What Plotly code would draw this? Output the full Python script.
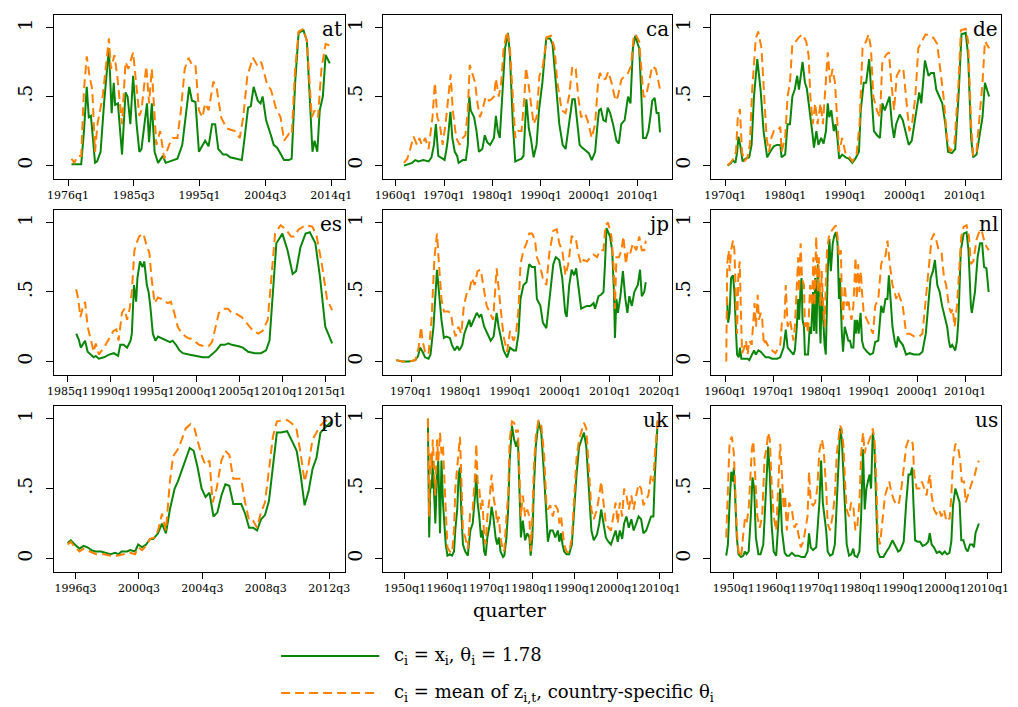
import plotly.graph_objects as go

# ---------------- data: (quarter as decimal year, value) ----------------
at_green = [(1976.5,.01),(1977.9,.01),(1978.3,.25),(1978.7,.57),(1979.0,.35),(1979.3,.36),(1979.5,.25),(1979.9,.02),(1980.2,.03),(1980.7,.1),(1981.2,.45),(1981.9,.85),(1982.3,.38),(1982.6,.6),(1982.8,.44),(1983.2,.45),(1983.8,.08),(1984.3,.53),(1984.6,.5),(1985.0,.3),(1985.4,.65),(1985.9,.3),(1986.3,.1),(1986.6,.12),(1987.4,.45),(1987.7,.17),(1988.1,.45),(1988.5,.1),(1989.0,.02),(1989.7,.07),(1990.1,.02),(1991.1,.04),(1991.8,.05),(1992.5,.15),(1993.0,.35),(1993.5,.57),(1993.9,.47),(1994.4,.46),(1994.9,.1),(1995.4,.15),(1995.8,.18),(1996.3,.14),(1996.8,.3),(1997.25,.3),(1997.7,.12),(1998.4,.08),(1998.9,.08),(1999.4,.06),(2000.55,.05),(2001.1,.04),(2001.5,.2),(2002.0,.42),(2002.4,.43),(2002.8,.57),(2003.4,.47),(2003.8,.45),(2004.1,.5),(2004.6,.33),(2005.3,.22),(2005.7,.15),(2006.2,.13),(2006.7,.08),(2007.2,.04),(2007.9,.04),(2008.3,.05),(2008.8,.6),(2009.3,.96),(2010.0,.98),(2010.5,.9),(2010.9,.5),(2011.3,.1),(2011.6,.18),(2012.0,.1),(2012.35,.4),(2012.8,.5),(2013.2,.8),(2013.8,.74)]
at_orange = [(1976.5,.05),(1976.9,.02),(1977.4,.07),(1977.9,.07),(1978.3,.55),(1978.7,.79),(1979.1,.65),(1979.5,.55),(1979.9,.1),(1980.25,.3),(1981.0,.5),(1981.4,.7),(1981.9,.92),(1982.2,.7),(1982.7,.8),(1983.1,.65),(1983.55,.45),(1983.8,.3),(1984.3,.75),(1984.7,.7),(1985.4,.82),(1985.9,.55),(1986.3,.36),(1986.6,.4),(1987.3,.72),(1987.7,.45),(1988.1,.7),(1988.75,.15),(1989.3,.25),(1989.9,.05),(1990.6,.15),(1991.1,.2),(1991.8,.2),(1992.3,.4),(1992.85,.7),(1993.4,.78),(1993.9,.73),(1994.4,.73),(1994.9,.4),(1995.4,.35),(1995.8,.45),(1996.3,.4),(1997.0,.61),(1997.5,.55),(1998.1,.35),(1998.9,.27),(2000.1,.25),(2000.8,.2),(2001.3,.35),(2001.9,.65),(2002.7,.78),(2003.4,.72),(2003.9,.75),(2004.8,.58),(2005.3,.55),(2006.0,.42),(2006.7,.35),(2007.2,.18),(2007.9,.23),(2008.3,.22),(2008.8,.7),(2009.3,.97),(2010.0,.99),(2010.5,.9),(2011.2,.35),(2011.6,.4),(2012.1,.35),(2012.6,.7),(2013.2,.88),(2013.8,.87)]

ca_green = [(1961.7,0),(1963.4,.02),(1964.05,.04),(1964.7,.03),(1965.7,.04),(1966.8,.03),(1967.4,.06),(1967.9,.15),(1968.3,.3),(1968.8,.07),(1969.7,.05),(1970.1,.04),(1970.5,.12),(1970.8,.2),(1971.3,.39),(1971.7,.2),(1972.2,.1),(1972.7,.07),(1973.0,.02),(1973.85,.04),(1974.5,.04),(1974.9,.15),(1975.2,.5),(1975.5,.4),(1976.2,.35),(1976.7,.25),(1977.2,.1),(1977.9,.12),(1978.4,.22),(1978.9,.17),(1979.5,.15),(1979.9,.18),(1980.3,.2),(1980.7,.36),(1981.1,.25),(1981.5,.2),(1982.0,.5),(1982.6,.85),(1983.2,.96),(1983.6,.8),(1984.2,.3),(1984.7,.03),(1985.3,.04),(1986.0,.05),(1986.4,.07),(1986.7,.3),(1987.0,.48),(1987.5,.27),(1987.9,.2),(1988.5,.06),(1989.1,.15),(1989.6,.4),(1990.3,.6),(1991.1,.92),(1991.9,.92),(1992.4,.88),(1993.1,.6),(1993.8,.3),(1994.5,.15),(1995.1,.12),(1995.8,.3),(1996.5,.48),(1997.0,.48),(1997.5,.3),(1998.0,.15),(1998.5,.13),(1999.2,.11),(1999.9,.09),(2000.5,.04),(2001.2,.1),(2001.7,.3),(2002.0,.4),(2002.4,.41),(2002.9,.33),(2003.4,.32),(2003.8,.42),(2004.3,.38),(2004.9,.3),(2005.6,.18),(2006.1,.16),(2006.6,.3),(2007.3,.33),(2008.0,.5),(2008.5,.45),(2009.0,.85),(2009.5,.94),(2010.0,.88),(2010.3,.85),(2010.7,.55),(2011.1,.2),(2011.7,.2),(2012.2,.25),(2012.6,.35),(2013.0,.47),(2013.5,.49),(2013.9,.38),(2014.3,.38),(2014.6,.24)]
ca_orange = [(1961.7,.02),(1962.4,.05),(1963.0,.12),(1963.7,.21),(1964.4,.15),(1964.9,.2),(1965.4,.15),(1966.1,.2),(1966.8,.12),(1967.2,.25),(1967.6,.35),(1968.1,.6),(1968.6,.35),(1969.1,.3),(1969.7,.15),(1970.3,.3),(1970.9,.5),(1971.35,.66),(1971.8,.4),(1972.5,.2),(1973.2,.15),(1973.85,.2),(1974.4,.22),(1974.9,.4),(1975.3,.73),(1975.9,.65),(1976.4,.6),(1976.9,.45),(1977.4,.35),(1977.9,.4),(1978.6,.5),(1979.3,.47),(1979.8,.48),(1980.3,.5),(1980.7,.63),(1981.3,.5),(1981.8,.6),(1982.3,.85),(1983.0,.97),(1983.6,.85),(1984.2,.5),(1984.7,.2),(1985.3,.25),(1986.0,.25),(1986.6,.5),(1986.9,.71),(1987.4,.6),(1987.9,.45),(1988.5,.3),(1989.1,.35),(1989.7,.65),(1990.4,.72),(1991.2,.93),(1992.1,.94),(1992.8,.85),(1993.4,.6),(1994.3,.4),(1995.1,.38),(1995.8,.5),(1996.5,.72),(1997.2,.7),(1997.7,.5),(1998.3,.35),(1999.1,.38),(1999.7,.32),(2000.5,.2),(2001.2,.3),(2001.8,.6),(2002.2,.67),(2002.9,.62),(2003.4,.63),(2003.9,.68),(2004.6,.6),(2005.4,.47),(2005.9,.5),(2006.6,.62),(2007.3,.65),(2008.0,.67),(2008.6,.72),(2009.2,.95),(2009.7,.94),(2010.3,.9),(2010.7,.7),(2011.2,.5),(2011.7,.5),(2012.2,.6),(2012.6,.65),(2013.0,.72),(2013.7,.7),(2014.05,.65),(2014.6,.55)]

de_green = [(1970.4,0),(1971.0,.02),(1971.25,.04),(1971.7,.02),(1972.0,.1),(1972.2,.21),(1972.5,.15),(1972.9,.03),(1973.4,.05),(1974.0,.06),(1974.4,.15),(1974.8,.5),(1975.35,.77),(1975.9,.55),(1976.4,.25),(1977.0,.06),(1977.5,.1),(1978.1,.14),(1978.6,.15),(1979.2,.15),(1979.4,.06),(1980.0,.08),(1980.4,.3),(1980.8,.3),(1981.2,.5),(1981.6,.55),(1982.0,.65),(1982.3,.55),(1982.9,.75),(1983.3,.6),(1983.6,.56),(1984.1,.4),(1984.5,.25),(1984.8,.13),(1985.2,.25),(1985.55,.15),(1986.0,.2),(1986.4,.16),(1986.8,.25),(1987.1,.45),(1987.35,.35),(1987.7,.4),(1988.1,.25),(1988.4,.3),(1988.7,.2),(1989.0,.05),(1989.5,.08),(1990.1,.06),(1990.6,.05),(1991.2,.02),(1991.7,.05),(1992.3,.1),(1992.6,.4),(1993.1,.6),(1993.5,.6),(1994.0,.77),(1994.4,.5),(1994.8,.25),(1995.3,.22),(1995.8,.2),(1996.2,.45),(1996.6,.4),(1997.0,.45),(1997.4,.5),(1997.8,.3),(1998.15,.2),(1998.5,.3),(1999.1,.37),(1999.6,.33),(2000.1,.25),(2000.6,.15),(2001.1,.18),(2001.5,.3),(2002.1,.45),(2002.35,.53),(2002.7,.45),(2003.3,.76),(2003.9,.65),(2004.3,.67),(2004.8,.67),(2005.2,.55),(2005.7,.5),(2006.2,.45),(2006.7,.3),(2007.15,.1),(2007.8,.09),(2008.35,.12),(2008.9,.5),(2009.4,.95),(2010.1,.96),(2010.5,.8),(2011.0,.2),(2011.35,.06),(2011.9,.08),(2012.4,.2),(2012.9,.35),(2013.3,.6),(2014.0,.5)]
de_orange = [(1970.4,0),(1971.25,.04),(1971.8,.1),(1972.1,.35),(1972.45,.41),(1972.8,.1),(1973.2,.03),(1973.7,.06),(1974.1,.15),(1974.5,.55),(1975.1,.92),(1975.5,.97),(1976.05,.85),(1976.4,.55),(1976.9,.2),(1977.3,.1),(1977.7,.2),(1978.1,.25),(1978.6,.25),(1979.2,.28),(1979.4,.1),(1980.0,.2),(1980.4,.5),(1980.8,.6),(1981.2,.88),(1981.8,.9),(1982.3,.93),(1982.9,.95),(1983.5,.9),(1983.9,.8),(1984.2,.5),(1984.6,.3),(1985.0,.45),(1985.4,.3),(1985.9,.45),(1986.3,.3),(1986.6,.5),(1987.1,.82),(1987.5,.6),(1987.9,.7),(1988.3,.6),(1988.7,.3),(1989.0,.1),(1989.5,.2),(1990.1,.08),(1990.6,.07),(1991.2,.03),(1991.9,.08),(1992.4,.3),(1992.9,.85),(1993.5,.9),(1993.9,.95),(1994.3,.85),(1994.7,.5),(1995.3,.4),(1995.8,.35),(1996.2,.75),(1996.8,.8),(1997.3,.82),(1997.7,.6),(1998.15,.4),(1998.6,.65),(1999.2,.7),(1999.7,.7),(2000.2,.5),(2000.7,.25),(2001.15,.3),(2001.7,.5),(2002.2,.85),(2002.8,.9),(2003.4,.95),(2004.3,.94),(2004.8,.92),(2005.35,.88),(2005.9,.7),(2006.4,.5),(2007.0,.2),(2007.5,.1),(2008.2,.15),(2008.9,.6),(2009.3,.98),(2010.1,.99),(2010.5,.9),(2011.0,.3),(2011.35,.07),(2011.9,.1),(2012.4,.35),(2012.9,.6),(2013.3,.9),(2014.0,.85)]

es_green = [(1985.96,.2),(1986.26,.16),(1986.5,.1),(1986.8,.13),(1987.0,.15),(1987.3,.07),(1987.7,.05),(1988.0,.03),(1988.25,.04),(1988.6,.02),(1989.2,.03),(1989.8,.05),(1990.35,.06),(1990.85,.04),(1991.1,.12),(1991.5,.12),(1991.9,.1),(1992.3,.15),(1992.45,.2),(1992.7,.55),(1992.95,.43),(1993.1,.6),(1993.4,.72),(1993.7,.68),(1993.9,.72),(1994.2,.55),(1994.4,.5),(1994.6,.4),(1994.9,.2),(1995.2,.15),(1995.5,.18),(1995.9,.17),(1996.3,.16),(1996.65,.15),(1996.9,.14),(1997.2,.15),(1997.6,.12),(1998.0,.08),(1998.4,.06),(1999.1,.05),(1999.9,.04),(2000.7,.03),(2001.4,.03),(2001.8,.05),(2002.3,.08),(2002.8,.12),(2003.3,.12),(2003.7,.13),(2004.1,.12),(2004.9,.11),(2005.4,.1),(2006.0,.07),(2006.8,.06),(2007.5,.06),(2008.1,.08),(2008.5,.15),(2008.9,.5),(2009.3,.85),(2010.0,.92),(2010.6,.8),(2011.2,.63),(2011.6,.65),(2012.1,.82),(2012.7,.92),(2013.2,.93),(2013.85,.85),(2014.4,.6),(2015.0,.25),(2015.8,.13)]
es_orange = [(1985.96,.52),(1986.2,.45),(1986.45,.32),(1986.7,.38),(1987.0,.43),(1987.3,.25),(1987.7,.15),(1988.0,.07),(1988.25,.13),(1988.6,.05),(1989.2,.1),(1989.8,.17),(1990.3,.22),(1990.65,.23),(1990.9,.15),(1991.3,.35),(1991.6,.38),(1991.9,.3),(1992.2,.38),(1992.45,.5),(1992.75,.8),(1993.0,.85),(1993.3,.9),(1993.8,.92),(1994.1,.85),(1994.5,.78),(1994.75,.6),(1995.1,.42),(1995.5,.46),(1995.9,.45),(1996.3,.43),(1996.65,.42),(1997.0,.43),(1997.4,.35),(1997.8,.25),(1998.3,.2),(1998.95,.17),(1999.5,.16),(2000.3,.12),(2000.9,.11),(2001.4,.11),(2001.8,.14),(2002.2,.25),(2002.6,.35),(2003.15,.38),(2003.65,.38),(2004.1,.35),(2004.7,.34),(2005.25,.32),(2005.8,.28),(2006.6,.22),(2007.2,.2),(2007.7,.22),(2008.3,.3),(2008.7,.6),(2009.15,.92),(2009.8,.98),(2010.4,.95),(2011.0,.9),(2011.35,.9),(2011.9,.95),(2012.7,.98),(2013.5,.97),(2014.0,.9),(2014.6,.7),(2015.2,.45),(2015.8,.37)]

jp_green = [(1967.0,.01),(1968.2,0),(1969.5,0),(1970.85,.01),(1971.4,.04),(1971.8,.1),(1972.3,.07),(1972.8,.03),(1973.5,.02),(1973.9,.05),(1974.5,.25),(1974.8,.45),(1975.2,.66),(1975.6,.5),(1976.1,.3),(1976.6,.17),(1977.1,.18),(1977.8,.17),(1978.2,.12),(1978.75,.08),(1979.3,.11),(1979.7,.08),(1980.3,.12),(1980.7,.2),(1981.25,.25),(1981.7,.3),(1982.0,.25),(1982.6,.3),(1983.2,.35),(1983.7,.32),(1984.1,.34),(1984.7,.25),(1985.3,.2),(1986.0,.15),(1986.6,.18),(1987.2,.35),(1987.6,.25),(1988.1,.15),(1988.6,.08),(1989.3,.03),(1989.9,.1),(1990.6,.08),(1991.1,.08),(1991.6,.2),(1992.0,.45),(1992.6,.55),(1993.2,.57),(1993.75,.7),(1994.3,.68),(1994.9,.68),(1995.3,.45),(1996.0,.4),(1996.5,.28),(1997.2,.24),(1997.7,.4),(1998.2,.6),(1998.6,.7),(1999.1,.75),(1999.8,.73),(2000.4,.6),(2001.0,.35),(2001.3,.32),(2001.8,.55),(2002.3,.66),(2002.8,.62),(2003.2,.67),(2003.75,.5),(2004.2,.38),(2004.7,.39),(2005.4,.4),(2006.05,.4),(2006.7,.42),(2007.0,.38),(2007.7,.47),(2008.2,.48),(2008.7,.5),(2009.0,.7),(2009.3,.96),(2010.0,.9),(2010.45,.8),(2010.8,.5),(2011.0,.17),(2011.3,.45),(2011.6,.35),(2012.1,.47),(2012.6,.65),(2013.1,.45),(2013.5,.35),(2013.9,.47),(2014.4,.4),(2014.9,.5),(2015.6,.55),(2016.05,.66),(2016.4,.47),(2016.9,.5),(2017.2,.57)]
jp_orange = [(1967.0,.01),(1968.2,0),(1969.5,0),(1970.85,.01),(1971.5,.1),(1972.0,.25),(1972.3,.15),(1972.8,.07),(1973.5,.05),(1974.1,.3),(1974.7,.75),(1975.2,.92),(1975.6,.7),(1976.1,.45),(1976.6,.36),(1977.4,.36),(1978.0,.35),(1978.4,.25),(1978.95,.18),(1979.5,.25),(1980.1,.2),(1980.6,.4),(1981.25,.5),(1981.7,.5),(1982.2,.6),(1982.8,.55),(1983.35,.65),(1984.0,.66),(1984.5,.55),(1985.2,.4),(1985.85,.35),(1986.5,.3),(1987.2,.67),(1987.6,.5),(1988.1,.35),(1988.6,.18),(1989.3,.07),(1989.9,.22),(1990.6,.15),(1991.1,.2),(1991.6,.38),(1992.0,.7),(1992.6,.8),(1993.2,.85),(1993.75,.92),(1994.3,.92),(1994.9,.88),(1995.3,.75),(1995.85,.7),(1996.5,.6),(1997.2,.55),(1997.8,.78),(1998.6,.94),(1999.3,.95),(1999.8,.85),(2000.4,.8),(2001.05,.62),(2001.6,.7),(2002.3,.9),(2003.1,.89),(2003.6,.78),(2004.2,.7),(2004.7,.73),(2005.4,.72),(2006.05,.75),(2006.7,.77),(2007.4,.75),(2008.0,.8),(2008.7,.8),(2009.1,.98),(2009.6,1.0),(2010.3,.9),(2010.8,.65),(2011.0,.38),(2011.3,.75),(2011.8,.75),(2012.3,.8),(2012.7,.9),(2013.2,.7),(2013.6,.8),(2014.1,.78),(2014.6,.85),(2015.3,.8),(2015.9,.9),(2016.4,.8),(2016.9,.8),(2017.2,.87)]

nl_green = [(1960.35,.45),(1960.6,.28),(1960.9,.35),(1961.2,.6),(1961.6,.62),(1961.9,.5),(1962.25,.2),(1962.45,.05),(1962.8,.03),(1963.05,.1),(1963.35,.02),(1963.95,.02),(1964.65,.02),(1965.0,.01),(1965.5,.05),(1966.0,.08),(1966.35,.05),(1966.9,.08),(1967.4,.07),(1967.85,.05),(1968.4,.03),(1969.1,.03),(1969.75,.02),(1970.8,.02),(1971.45,.03),(1972.15,.1),(1972.6,.23),(1973.0,.1),(1973.5,.08),(1974.2,.05),(1974.5,.08),(1974.9,.25),(1975.2,.45),(1975.4,.3),(1975.7,.55),(1975.9,.6),(1976.1,.3),(1976.4,.25),(1976.6,.05),(1976.9,.05),(1977.25,.05),(1977.6,.25),(1977.9,.2),(1978.3,.5),(1978.5,.22),(1978.75,.6),(1979.0,.2),(1979.3,.7),(1979.6,.3),(1979.85,.13),(1980.1,.5),(1980.4,.3),(1980.7,.12),(1980.95,.05),(1981.15,.4),(1981.35,.65),(1981.7,.88),(1982.0,.65),(1982.4,.85),(1982.7,.9),(1983.05,.93),(1983.4,.85),(1983.7,.45),(1983.9,.6),(1984.3,.2),(1984.55,.07),(1984.9,.25),(1985.3,.2),(1985.65,.15),(1986.0,.15),(1986.3,.1),(1986.7,.1),(1987.0,.3),(1987.2,.2),(1987.5,.3),(1987.8,.2),(1988.2,.35),(1988.5,.15),(1988.85,.1),(1989.55,.07),(1990.2,.05),(1990.8,.06),(1991.25,.14),(1991.9,.15),(1992.5,.4),(1992.95,.35),(1993.4,.45),(1993.8,.45),(1994.1,.62),(1994.45,.45),(1994.85,.25),(1995.3,.15),(1995.65,.1),(1996.0,.18),(1996.3,.15),(1997.0,.12),(1997.7,.05),(1998.4,.06),(1999.4,.05),(2000.45,.05),(2001.1,.07),(2001.8,.2),(2002.5,.5),(2002.8,.6),(2003.3,.65),(2003.7,.73),(2004.2,.55),(2004.7,.5),(2005.2,.4),(2005.8,.3),(2006.25,.25),(2006.6,.15),(2006.9,.1),(2007.3,.12),(2007.6,.1),(2007.95,.08),(2008.3,.15),(2008.6,.3),(2009.1,.8),(2009.7,.92),(2010.3,.93),(2010.7,.8),(2011.2,.4),(2011.4,.35),(2012.05,.5),(2012.6,.75),(2013.1,.85),(2013.55,.85),(2013.95,.68),(2014.45,.67),(2014.9,.5)]
nl_orange = [(1960.2,0),(1960.4,.7),(1960.7,.8),(1960.9,.65),(1961.2,.8),(1961.6,.87),(1961.9,.8),(1962.25,.5),(1962.45,.2),(1962.7,.6),(1963.0,.72),(1963.3,.3),(1963.5,.06),(1963.95,.1),(1964.3,.15),(1964.65,.05),(1965.0,.15),(1965.5,.12),(1965.9,.3),(1966.1,.42),(1966.4,.25),(1966.75,.48),(1967.0,.3),(1967.4,.35),(1967.7,.3),(1968.05,.12),(1968.4,.15),(1969.1,.1),(1969.75,.08),(1970.45,.06),(1971.1,.1),(1971.45,.12),(1971.8,.28),(1972.35,.3),(1972.6,.55),(1973.0,.25),(1973.5,.3),(1974.2,.15),(1974.5,.25),(1974.9,.55),(1975.2,.75),(1975.4,.5),(1975.7,.85),(1976.0,.6),(1976.4,.55),(1976.6,.25),(1976.9,.3),(1977.25,.2),(1977.7,.55),(1978.1,.4),(1978.35,.75),(1978.6,.4),(1978.95,.9),(1979.3,.5),(1979.5,.75),(1979.85,.4),(1980.1,.65),(1980.4,.4),(1980.7,.25),(1980.95,.55),(1981.2,.8),(1981.7,.92),(1982.4,.95),(1983.05,.98),(1983.4,.9),(1983.7,.75),(1984.1,.8),(1984.3,.45),(1984.55,.3),(1984.9,.55),(1985.3,.4),(1985.65,.45),(1986.0,.35),(1986.3,.3),(1986.7,.4),(1987.15,.75),(1987.4,.45),(1987.7,.7),(1987.95,.5),(1988.25,.65),(1988.5,.5),(1988.85,.35),(1989.55,.3),(1990.2,.25),(1990.8,.2),(1991.25,.4),(1991.9,.45),(1992.5,.7),(1992.95,.75),(1993.4,.76),(1993.8,.87),(1994.3,.7),(1994.85,.55),(1995.3,.5),(1995.65,.45),(1996.0,.5),(1996.5,.45),(1997.0,.4),(1997.7,.2),(1998.4,.2),(1999.4,.18),(2000.45,.18),(2001.1,.2),(2001.8,.45),(2002.5,.75),(2003.0,.88),(2003.5,.92),(2004.0,.87),(2004.5,.8),(2005.1,.78),(2005.6,.6),(2006.05,.55),(2006.6,.4),(2007.05,.35),(2007.4,.38),(2007.8,.25),(2008.3,.4),(2008.8,.65),(2009.2,.9),(2009.7,.97),(2010.3,.98),(2010.8,.9),(2011.2,.7),(2011.7,.72),(2012.4,.88),(2013.1,.95),(2013.55,.93),(2014.1,.85),(2014.9,.8)]

pt_green = [(1996.0,.11),(1996.2,.13),(1996.45,.1),(1996.75,.07),(1997.0,.09),(1997.25,.08),(1997.5,.06),(1997.75,.05),(1998.1,.05),(1998.45,.04),(1998.7,.03),(1999.0,.04),(1999.2,.03),(1999.4,.05),(1999.75,.05),(1999.95,.06),(2000.25,.05),(2000.45,.1),(2000.7,.08),(2000.95,.1),(2001.2,.14),(2001.4,.14),(2001.7,.18),(2001.95,.25),(2002.2,.18),(2002.45,.35),(2002.75,.5),(2002.95,.55),(2003.2,.63),(2003.45,.72),(2003.7,.79),(2003.95,.77),(2004.2,.65),(2004.45,.5),(2004.7,.44),(2004.95,.47),(2005.2,.3),(2005.45,.33),(2005.7,.45),(2005.95,.53),(2006.2,.52),(2006.45,.39),(2006.7,.39),(2006.95,.39),(2007.2,.32),(2007.45,.22),(2007.7,.22),(2007.95,.2),(2008.2,.28),(2008.45,.31),(2008.7,.41),(2008.95,.65),(2009.2,.9),(2009.45,.9),(2009.85,.91),(2010.2,.83),(2010.45,.77),(2010.7,.6),(2010.95,.38),(2011.2,.48),(2011.45,.64),(2011.7,.72),(2011.95,.9),(2012.2,.93),(2012.45,.96),(2012.65,.98)]
pt_orange = [(1996.0,.1),(1996.2,.12),(1996.45,.08),(1996.75,.05),(1997.0,.07),(1997.37,.05),(1997.8,.03),(1998.3,.03),(1998.7,.02),(1999.1,.02),(1999.5,.03),(1999.95,.04),(2000.25,.03),(2000.45,.08),(2000.7,.06),(2000.95,.09),(2001.2,.14),(2001.5,.15),(2001.7,.2),(2001.95,.32),(2002.2,.2),(2002.45,.55),(2002.65,.73),(2002.95,.78),(2003.2,.85),(2003.45,.93),(2003.75,.96),(2004.0,.93),(2004.3,.8),(2004.5,.72),(2004.7,.67),(2004.95,.7),(2005.15,.4),(2005.4,.5),(2005.7,.7),(2005.95,.77),(2006.2,.74),(2006.45,.57),(2006.7,.57),(2006.95,.57),(2007.2,.4),(2007.45,.27),(2007.7,.27),(2007.95,.22),(2008.2,.33),(2008.45,.4),(2008.7,.63),(2008.95,.87),(2009.2,.98),(2009.85,.99),(2010.2,.96),(2010.45,.92),(2010.7,.75),(2010.95,.55),(2011.2,.67),(2011.45,.85),(2011.7,.9),(2011.95,.95),(2012.2,.98),(2012.45,.99)]

uk_quarter = [1955.4,1955.7,1956.0,1956.3,1956.55,1956.85,1957.15,1957.55,1957.85,1958.25,
              1958.6,1958.95,1959.25,1959.6,1960.0,1960.55,1961.1,1961.55,1961.85,1962.3,
              1962.65,1962.95,1963.25,1963.65,1964.2,1964.8,1965.4,1965.95,1966.5,1966.8,
              1967.1,1967.5,1967.9,1968.25,1968.65,1969.0,1969.4,1970.0,1970.4,1970.8,
              1971.35,1971.7,1972.1,1972.5,1973.1,1973.4,1973.9,1974.3,1974.65,1975.2,
              1975.7,1976.2,1976.6,1976.95,1977.3,1977.75,1978.3,1978.8,1979.3,1979.6,
              1980.0,1980.35,1980.8,1981.45,1982.1,1982.75,1983.3,1983.65,1984.2,1984.8,
              1985.4,1986.0,1986.35,1986.75,1987.1,1987.5,1988.05,1988.65,1989.3,1989.8,
              1990.4,1991.0,1991.6,1992.15,1992.7,1993.3,1993.9,1994.45,1995.2,1995.75,
              1996.2,1996.75,1997.3,1997.9,1998.5,1999.05,1999.6,2000.1,2000.6,2001.15,
              2001.6,2002.15,2002.7,2003.3,2003.85,2004.45,2005.0,2005.6,2006.15,2006.8,
              2007.3,2007.95,2008.5,2008.85,2009.5]
uk_green_v = [1.0,.15,.55,.5,.7,.45,.25,.6,.7,.18,
              .7,.4,.25,.1,.02,.03,.02,.05,.2,.35,
              .6,.65,.35,.1,.05,.02,.2,.25,.45,.6,
              .4,.3,.15,.2,.05,.02,.15,.25,.37,.3,
              .15,.1,.15,.05,.01,.02,.15,.35,.7,.95,
              .85,.8,.85,.45,.15,.27,.13,.18,.15,.02,
              .15,.5,.8,.98,.9,.6,.25,.12,.2,.2,
              .15,.2,.12,.18,.1,.05,.03,.03,.1,.35,
              .6,.8,.85,.9,.8,.45,.2,.13,.17,.25,
              .35,.25,.15,.12,.1,.15,.2,.12,.2,.14,
              .25,.3,.22,.28,.2,.25,.3,.28,.18,.2,
              .25,.3,.3,.6,.98]
uk_orange_v = [1.0,.3,.75,.65,.85,.6,.45,.85,.7,.9,
               .75,.8,.6,.3,.08,.05,.04,.2,.5,.65,
               .8,.87,.6,.2,.15,.07,.35,.35,.6,.82,
               .55,.5,.35,.42,.15,.1,.3,.45,.6,.45,
               .35,.25,.3,.15,.05,.06,.3,.45,.85,.98,
               .97,.9,.92,.6,.3,.45,.3,.35,.3,.05,
               .3,.65,.87,.99,.95,.75,.4,.35,.38,.3,
               .38,.35,.25,.3,.2,.1,.05,.04,.15,.45,
               .72,.85,.92,.97,.93,.6,.35,.28,.35,.45,
               .55,.4,.25,.22,.2,.3,.4,.25,.4,.3,
               .5,.45,.35,.45,.35,.45,.53,.5,.38,.42,
               .45,.6,.55,.75,.99]
uk_green = list(zip(uk_quarter, uk_green_v))
uk_orange = list(zip(uk_quarter, uk_orange_v))

us_green = [(1948.2,.02),(1948.6,.1),(1949.0,.4),(1949.4,.62),(1949.8,.55),(1950.0,.65),(1950.3,.45),(1950.7,.15),(1951.1,.03),(1951.7,.01),(1952.25,.02),(1952.6,.05),(1953.0,.03),(1953.5,.05),(1954.0,.3),(1954.4,.58),(1954.8,.5),(1955.2,.15),(1955.8,.03),(1956.3,.03),(1956.95,.1),(1957.35,.35),(1957.7,.6),(1958.1,.8),(1958.5,.6),(1958.9,.25),(1959.4,.05),(1960.0,.02),(1960.6,.3),(1960.95,.5),(1961.35,.2),(1962.0,.04),(1962.5,.02),(1963.05,.02),(1963.7,.04),(1964.45,.02),(1965.2,.02),(1966.0,.01),(1966.75,.01),(1967.4,.05),(1967.75,.18),(1968.15,.08),(1968.7,.06),(1969.45,.08),(1969.85,.25),(1970.2,.4),(1970.6,.7),(1971.0,.4),(1971.4,.3),(1971.8,.2),(1972.15,.05),(1972.7,.02),(1973.3,.03),(1973.85,.1),(1974.3,.4),(1974.7,.7),(1975.1,.93),(1975.5,.85),(1975.9,.6),(1976.25,.3),(1976.65,.1),(1977.2,.02),(1977.7,.03),(1978.2,.07),(1978.5,.02),(1979.1,.01),(1979.65,.05),(1980.05,.3),(1980.5,.78),(1980.9,.35),(1981.3,.5),(1981.65,.55),(1982.05,.6),(1982.4,.5),(1982.8,.9),(1983.2,.8),(1983.6,.4),(1983.95,.05),(1984.5,.01),(1985.3,.01),(1986.05,.05),(1986.7,.08),(1987.45,.13),(1988.0,.1),(1988.8,.05),(1989.3,.06),(1990.1,.12),(1990.7,.4),(1991.25,.6),(1991.7,.6),(1992.1,.65),(1992.4,.4),(1992.8,.13),(1993.4,.12),(1993.95,.12),(1994.55,.09),(1995.3,.1),(1995.9,.12),(1996.25,.18),(1996.7,.1),(1997.25,.08),(1997.9,.04),(1998.6,.05),(1999.2,.03),(1999.8,.05),(2000.35,.03),(2000.9,.04),(2001.35,.12),(2001.75,.38),(2002.3,.5),(2002.75,.45),(2003.3,.4),(2003.7,.13),(2004.2,.13),(2004.75,.07),(2005.2,.05),(2005.75,.1),(2006.3,.1),(2006.7,.08),(2007.05,.18),(2007.85,.25)]
us_orange = [(1948.2,.15),(1948.6,.55),(1949.0,.84),(1949.55,.87),(1950.0,.75),(1950.4,.45),(1950.7,.2),(1951.1,.05),(1951.7,.01),(1952.25,.18),(1952.6,.28),(1953.0,.25),(1953.5,.35),(1953.85,.55),(1954.25,.78),(1954.6,.84),(1955.0,.6),(1955.55,.3),(1956.1,.22),(1956.7,.3),(1957.25,.72),(1957.7,.78),(1958.1,.9),(1958.5,.85),(1958.9,.55),(1959.4,.3),(1960.0,.2),(1960.6,.55),(1960.95,.82),(1961.35,.6),(1961.75,.35),(1962.1,.45),(1962.5,.2),(1963.05,.4),(1963.7,.35),(1964.3,.22),(1964.8,.25),(1965.2,.18),(1965.8,.08),(1966.4,.12),(1966.9,.2),(1967.4,.3),(1967.75,.62),(1968.15,.4),(1968.7,.38),(1969.2,.4),(1969.7,.5),(1970.2,.77),(1970.8,.85),(1971.2,.78),(1971.8,.5),(1972.15,.25),(1972.7,.2),(1973.3,.3),(1973.85,.45),(1974.3,.75),(1974.7,.85),(1975.1,.95),(1975.5,.92),(1975.9,.8),(1976.25,.55),(1976.65,.35),(1977.2,.3),(1977.7,.4),(1978.2,.38),(1978.7,.2),(1979.1,.22),(1979.65,.4),(1980.05,.75),(1980.5,.9),(1980.9,.75),(1981.3,.82),(1981.65,.82),(1982.05,.85),(1982.4,.88),(1982.8,.93),(1983.2,.85),(1983.6,.6),(1983.95,.2),(1984.5,.1),(1985.1,.3),(1985.7,.45),(1986.2,.5),(1986.7,.55),(1987.2,.47),(1987.75,.42),(1988.4,.38),(1989.0,.4),(1989.55,.5),(1990.1,.65),(1990.7,.8),(1991.25,.85),(1991.85,.85),(1992.25,.82),(1992.6,.6),(1993.15,.5),(1993.8,.5),(1994.4,.55),(1994.95,.5),(1995.5,.45),(1995.95,.55),(1996.3,.6),(1996.7,.45),(1997.25,.35),(1997.8,.32),(1998.4,.35),(1999.05,.3),(1999.6,.35),(2000.1,.28),(2000.6,.3),(2000.95,.28),(2001.35,.45),(2001.75,.7),(2002.3,.82),(2002.9,.8),(2003.45,.7),(2003.8,.55),(2004.35,.55),(2004.75,.4),(2005.2,.45),(2005.75,.5),(2006.3,.55),(2006.9,.6),(2007.3,.65),(2007.85,.7)]

# tick positions (decimal year) and labels per panel
at_ticks = [1976.0, 1985.5, 1995.0, 2004.5, 2014.0]
at_labels = ["1976q1", "1985q3", "1995q1", "2004q3", "2014q1"]
ca_ticks = [1960, 1970, 1980, 1990, 2000, 2010]
ca_labels = ["1960q1", "1970q1", "1980q1", "1990q1", "2000q1", "2010q1"]
de_ticks = [1970, 1980, 1990, 2000, 2010]
de_labels = ["1970q1", "1980q1", "1990q1", "2000q1", "2010q1"]
es_ticks = [1985, 1990, 1995, 2000, 2005, 2010, 2015]
es_labels = ["1985q1", "1990q1", "1995q1", "2000q1", "2005q1", "2010q1", "2015q1"]
jp_ticks = [1970, 1980, 1990, 2000, 2010, 2020]
jp_labels = ["1970q1", "1980q1", "1990q1", "2000q1", "2010q1", "2020q1"]
nl_ticks = [1960, 1970, 1980, 1990, 2000, 2010]
nl_labels = ["1960q1", "1970q1", "1980q1", "1990q1", "2000q1", "2010q1"]
pt_ticks = [1996.5, 2000.5, 2004.5, 2008.5, 2012.5]
pt_labels = ["1996q3", "2000q3", "2004q3", "2008q3", "2012q3"]
uk_ticks = [1950, 1960, 1970, 1980, 1990, 2000, 2010]
uk_labels = ["1950q1", "1960q1", "1970q1", "1980q1", "1990q1", "2000q1", "2010q1"]
us_ticks = [1950, 1960, 1970, 1980, 1990, 2000, 2010]
us_labels = ["1950q1", "1960q1", "1970q1", "1980q1", "1990q1", "2000q1", "2010q1"]

y_ticks = [0, 0.5, 1]
y_labels = ["0", ".5", "1"]

countries = ["at", "ca", "de", "es", "jp", "nl", "pt", "uk", "us"]
series_green = [at_green, ca_green, de_green, es_green, jp_green, nl_green, pt_green, uk_green, us_green]
series_orange = [at_orange, ca_orange, de_orange, es_orange, jp_orange, nl_orange, pt_orange, uk_orange, us_orange]
ticks = [at_ticks, ca_ticks, de_ticks, es_ticks, jp_ticks, nl_ticks, pt_ticks, uk_ticks, us_ticks]
labels = [at_labels, ca_labels, de_labels, es_labels, jp_labels, nl_labels, pt_labels, uk_labels, us_labels]

legend_green = "c<sub>i</sub> = x<sub>i</sub>, θ<sub>i</sub> = 1.78"
legend_orange = "c<sub>i</sub> = mean of z<sub>i,t</sub>, country-specific θ<sub>i</sub>"

# ---------------- layout settings ----------------
x_ranges = [[1974.0, 2016.0], [1957.44, 2017.1], [1967.7, 2016.0],
            [1983.4, 2017.3], [1964.4, 2022.5], [1957.1, 2017.5],
            [1995.15, 2013.5], [1944.9, 2012.9], [1944.7, 2013.1]]
col_dom = [[0.0452, 0.3360], [0.3743, 0.6631], [0.7024, 0.9921]]
row_dom = [[0.7468, 0.9788], [0.4696, 0.7030], [0.1909, 0.4257]]
y_range = [-0.097, 1.09]

FONT = "DejaVu Serif"
GREEN = "#0a850a"
ORANGE = "#ff8000"

fig = go.Figure()
layout = dict(
    width=1018, height=707,
    margin=dict(l=0, r=0, t=0, b=0),
    paper_bgcolor="white", plot_bgcolor="white",
    showlegend=False,
    font=dict(family=FONT, color="black"),
    annotations=[], shapes=[],
)

for i, c in enumerate(countries):
    n = i + 1
    xa = "x" if n == 1 else f"x{n}"
    ya = "y" if n == 1 else f"y{n}"
    gx, gy = zip(*series_green[i])
    ox, oy = zip(*series_orange[i])
    fig.add_trace(go.Scatter(x=gx, y=gy, mode="lines", xaxis=xa, yaxis=ya,
                             line=dict(color=GREEN, width=2), hoverinfo="skip"))
    fig.add_trace(go.Scatter(x=ox, y=oy, mode="lines", xaxis=xa, yaxis=ya,
                             line=dict(color=ORANGE, width=2, dash="9px,5px"), hoverinfo="skip"))
    r, col = divmod(i, 3)
    layout["xaxis" if n == 1 else f"xaxis{n}"] = dict(
        domain=col_dom[col], anchor=ya, range=x_ranges[i],
        tickmode="array", tickvals=ticks[i], ticktext=labels[i], tickangle=0,
        ticks="outside", ticklen=6, tickwidth=1.2, tickcolor="black",
        showline=True, mirror=True, linecolor="black", linewidth=1.4,
        showgrid=False, zeroline=False,
        tickfont=dict(family=FONT, size=11, color="black"),
    )
    layout["yaxis" if n == 1 else f"yaxis{n}"] = dict(
        domain=row_dom[r], anchor=xa, range=y_range,
        tickmode="array", tickvals=y_ticks, ticktext=y_labels, tickangle=-90,
        ticks="outside", ticklen=7, tickwidth=1.2, tickcolor="black",
        ticklabelstandoff=6,
        showline=True, mirror=True, linecolor="black", linewidth=1.4,
        showgrid=False, zeroline=False,
        tickfont=dict(family=FONT, size=19, color="black"),
    )
    layout["annotations"].append(dict(
        text=c, xref=f"{xa} domain", yref=f"{ya} domain", x=0.995, y=1.0,
        xanchor="right", yanchor="top", showarrow=False,
        font=dict(family=FONT, size=20, color="black")))

layout["annotations"].append(dict(
    text="quarter", xref="paper", yref="paper", x=0.501, y=0.137,
    xanchor="center", yanchor="middle", showarrow=False,
    font=dict(family=FONT, size=19, color="black")))

# legend (drawn manually to match long line samples)
for yy, col_, dash, txt in [(0.0721, GREEN, "solid", legend_green),
                            (0.0198, ORANGE, "9px,5px", legend_orange)]:
    layout["shapes"].append(dict(type="line", xref="paper", yref="paper",
                                 x0=0.2721, x1=0.3703, y0=yy, y1=yy,
                                 line=dict(color=col_, width=2, dash=dash)))
    layout["annotations"].append(dict(
        text=txt, xref="paper", yref="paper", x=0.3831, y=yy,
        xanchor="left", yanchor="middle", showarrow=False,
        font=dict(family=FONT, size=18, color="black")))

fig.update_layout(**layout)
fig.write_html("out.html")
